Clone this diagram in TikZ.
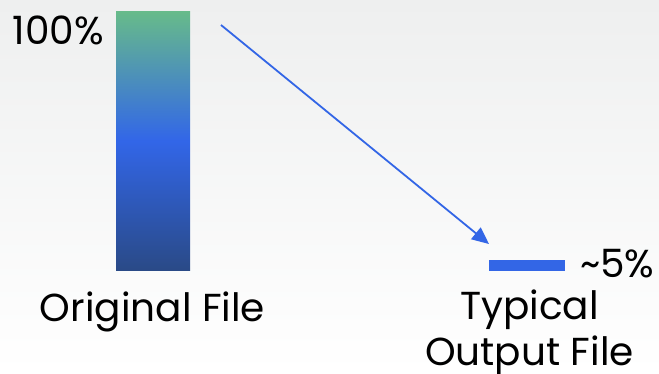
\documentclass[tikz,border=0pt]{standalone}
\usepackage{fontspec}
\setmainfont{Poppins}
\usetikzlibrary{arrows.meta}
\definecolor{bgtop}{RGB}{238,239,239}
\definecolor{gtop}{RGB}{103,187,138}
\definecolor{gmid}{RGB}{50,102,232}
\definecolor{gbot}{RGB}{42,74,135}
\definecolor{arrowblue}{RGB}{51,102,230}
\begin{document}
\begin{tikzpicture}[x=1pt,y=-1pt,
  lbl/.style={font=\fontsize{39}{46}\selectfont, text=black, inner sep=0pt},
  barbox/.style={draw=none, inner sep=0pt, anchor=north west},
  conn/.style={arrowblue, line width=1.8pt, -{Triangle[length=17pt,width=15pt]}}]
\shade[top color=bgtop, bottom color=white] (0,0) rectangle (659,373);
\useasboundingbox (0,0) rectangle (659,373);
% original file bar
\node[barbox, minimum width=74pt, minimum height=259pt,
  top color=gtop, bottom color=gbot, middle color=gmid] (orig) at (116,11) {};
\node[lbl, anchor=base east] (p100) at (104,44) {100\%};
\node[lbl, anchor=base] (origlbl) at (152.5,321) {Original File};
% output bar
\node[barbox, fill=arrowblue, minimum width=76pt, minimum height=11pt] (out) at (489,260) {};
\node[lbl, anchor=base west] (p5) at (580,277) {\textasciitilde5\%};
\node[lbl, anchor=north, align=center] (outlbl) at (529.5,290) {Typical\\Output File};
% connector
\coordinate (as) at (221,25);
\coordinate (ae) at (489,244);
\draw[conn] (as) -- (ae);
\end{tikzpicture}
\end{document}
